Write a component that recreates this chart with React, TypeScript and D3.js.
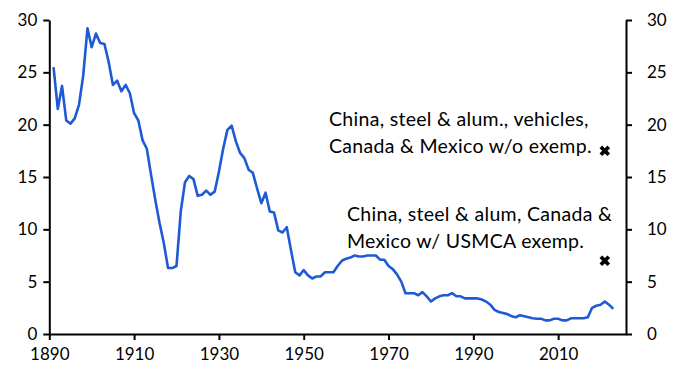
import React, { useEffect, useRef } from "react";
import * as d3 from "d3";

const years: number[] = d3.range(1891, 2024);
const tariffRate: number[] = [
  25.5, 21.5, 23.7, 20.4, 20.1, 20.6, 21.9, 24.7, 29.2, 27.4,
  28.7, 27.8, 27.7, 26.0, 23.8, 24.2, 23.2, 23.8, 23.0, 21.1,
  20.4, 18.5, 17.7, 15.2, 12.8, 10.6, 8.7, 6.3, 6.3, 6.5,
  11.7, 14.5, 15.1, 14.8, 13.2, 13.3, 13.7, 13.3, 13.6, 15.5,
  17.7, 19.5, 19.9, 18.4, 17.3, 16.8, 15.7, 15.4, 13.9, 12.5,
  13.5, 11.7, 11.6, 9.9, 9.7, 10.2, 8.0, 5.9, 5.6, 6.1,
  5.6, 5.3, 5.5, 5.5, 5.9, 5.9, 5.9, 6.5, 7.0, 7.2,
  7.3, 7.5, 7.4, 7.4, 7.5, 7.5, 7.5, 7.1, 7.1, 6.5,
  6.2, 5.7, 5.0, 3.9, 3.9, 3.9, 3.7, 4.0, 3.6, 3.1,
  3.4, 3.6, 3.7, 3.7, 3.9, 3.6, 3.6, 3.4, 3.4, 3.4,
  3.4, 3.3, 3.1, 2.8, 2.3, 2.1, 2.0, 1.9, 1.7, 1.6,
  1.8, 1.7, 1.6, 1.5, 1.45, 1.45, 1.3, 1.3, 1.45, 1.45,
  1.3, 1.3, 1.5, 1.5, 1.5, 1.5, 1.6, 2.5, 2.7, 2.8,
  3.1, 2.8, 2.4,
];

const scenarioYears: number[] = [2021, 2021];
const scenarioValues: number[] = [17.5, 7.0];
const scenarioLabels: string[][] = [
  ["China, steel & alum., vehicles,", "Canada & Mexico w/o exemp."],
  ["China, steel & alum, Canada &", "Mexico w/ USMCA exemp."],
];

const xTicks: number[] = [1890, 1910, 1930, 1950, 1970, 1990, 2010];
const yTicks: number[] = [0, 5, 10, 15, 20, 25, 30];

const W = 680;
const H = 383;
const FONT = "Lato, 'Open Sans', sans-serif";

export default function App() {
  const ref = useRef<SVGSVGElement>(null);

  useEffect(() => {
    const svg = d3.select(ref.current);
    svg.selectAll("*").remove();

    const x = d3.scaleLinear().domain([1890, 2026]).range([49.3, 626]);
    const y = d3.scaleLinear().domain([0, 30]).range([334, 20]);

    const styleAxis = (g: any) => {
      g.selectAll("path.domain").attr("stroke", "#000").attr("stroke-width", 2);
      g.selectAll(".tick line").attr("stroke", "#000").attr("stroke-width", 2);
      g.selectAll(".tick text")
        .attr("fill", "#000")
        .style("font-family", FONT)
        .style("font-size", "17px");
    };

    const gx = svg
      .append("g")
      .attr("transform", `translate(0,${y(0)})`)
      .call(
        d3.axisBottom(x).tickValues(xTicks).tickFormat(d3.format("d")).tickSize(6).tickSizeOuter(0).tickPadding(8)
      );
    styleAxis(gx);

    const gl = svg
      .append("g")
      .attr("transform", `translate(${x(1890)},0)`)
      .call(d3.axisLeft(y).tickValues(yTicks).tickSize(6).tickSizeOuter(0).tickPadding(6));
    styleAxis(gl);

    const gr = svg
      .append("g")
      .attr("transform", `translate(${x(2026)},0)`)
      .call(d3.axisRight(y).tickValues(yTicks).tickSize(6).tickSizeOuter(0).tickPadding(15));
    styleAxis(gr);

    const data = years.map((yr, i) => [yr, tariffRate[i]] as [number, number]);
    const line = d3
      .line<[number, number]>()
      .x((d) => x(d[0]))
      .y((d) => y(d[1]));
    svg
      .append("path")
      .datum(data)
      .attr("d", line)
      .attr("fill", "none")
      .attr("stroke", "#1f5ad6")
      .attr("stroke-width", 2.6)
      .attr("stroke-linejoin", "round");

    const cross = d3.symbol().type(d3.symbolCross).size(70);
    scenarioValues.forEach((v, i) => {
      svg
        .append("path")
        .attr("d", cross() as string)
        .attr("fill", "#000")
        .attr("transform", `translate(${x(scenarioYears[i])},${y(v)}) rotate(45)`);
    });

    const ann = [
      { x: 329, y: 126, lines: scenarioLabels[0] },
      { x: 347, y: 221, lines: scenarioLabels[1] },
    ];
    ann.forEach((a) => {
      const t = svg
        .append("text")
        .attr("fill", "#000")
        .style("font-family", FONT)
        .style("font-size", "19.5px")
        .style("letter-spacing", "0.3px");
      a.lines.forEach((ln, j) => {
        t.append("tspan").attr("x", a.x).attr("y", a.y + j * 26.5).text(ln);
      });
    });
  }, []);

  return (
    <svg
      ref={ref}
      width={W}
      height={H}
      style={{ position: "absolute", left: 0, top: 0, background: "#fff" }}
    />
  );
}
